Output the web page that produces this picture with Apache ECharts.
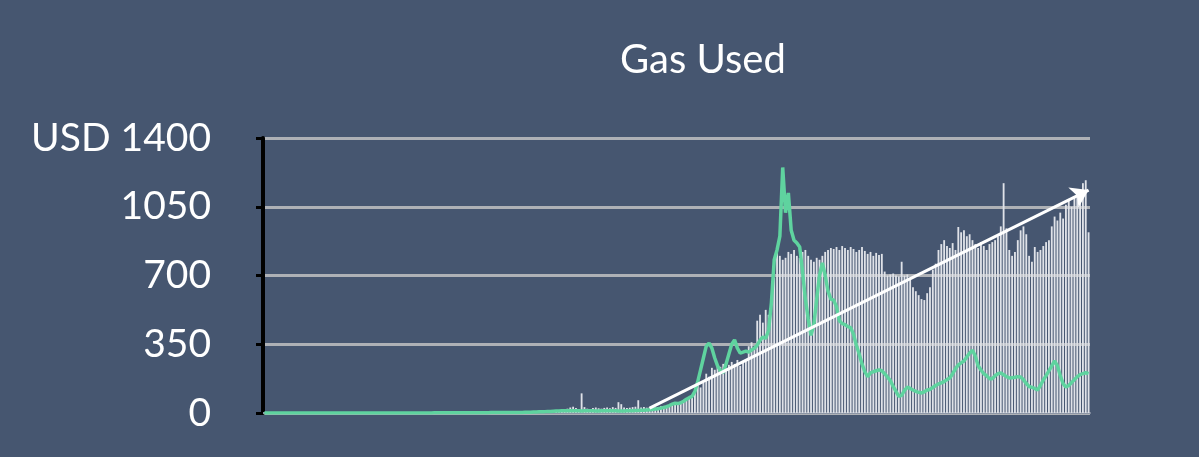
<!DOCTYPE html>
<html>
<head>
<meta charset="utf-8">
<script src="https://cdn.jsdelivr.net/npm/echarts@6/dist/echarts.min.js"></script>
<style>
html,body{margin:0;padding:0;background:#465670;}
#chart{width:1199px;height:457px;}
</style>
</head>
<body>
<div id="chart"></div>
<script>
// Weekly gas used (USD) – bars
var gasUsed = [
0,0,0,0,0,0,0,0,0,0,
0,0,0,0,0,0,0,0,0,0,
0,0,0,0,0,0,0,0,0,0,
0,0,0,0,0,0,0,0,0,0,
0,0,0,0,0,0,0,0,0,0,
0,0,0,0,0,0,0,0,0,0,
0,0,0,0,0,0,0,0,0,0,
0,0,0,0,0,0,0,0,0,0,
0,0,0,0,0,0,0,0,0,4,
6,8,5,4,6,7,5,6,8,7,
6,8,9,10,9,14,18,22,28,32,
25,20,100,30,22,20,25,28,24,22,
26,28,24,30,26,55,45,28,25,27,
30,32,65,28,30,27,30,32,28,30,
34,36,38,35,40,42,45,50,60,65,
75,90,120,150,130,155,200,185,230,220,
240,235,250,225,245,260,250,270,240,260,
265,340,360,330,470,500,460,525,500,560,
690,815,800,780,790,820,810,830,800,790,
820,830,800,780,770,790,780,800,820,830,
840,835,845,830,850,840,830,845,835,820,
830,845,825,810,820,800,815,805,810,720,
700,705,710,700,695,770,700,705,690,640,
620,600,580,575,610,640,730,760,830,860,
880,850,840,865,830,947,920,930,900,910,
880,860,840,870,850,830,860,870,880,900,
950,1170,940,830,800,820,880,930,950,910,
800,770,845,820,830,850,870,880,950,1000,
980,1020,990,1060,1090,1050,1100,1120,1080,1170,
1185,920
];
// ETH price (USD) – green line
var ethPrice = [
0,0,0,0,0,0,0,0,0,0,
0,0,0,0,0,0,0,0,0,0,
0,0,0,0,0,0,0,0,0,0,
0,0,0,0,0,0,0,0,0,0,
0,0,0,0,0,0,0,0,0,0,
0,0,0,0,0,0,0,0,0,0,
1,1,1,1,1,1,1,1,1,1,
1,1,1,1,1,1,1,1,1,1,
2,2,2,2,2,2,2,2,2,3,
3,3,4,4,4,5,5,6,7,7,
8,8,9,10,10,11,11,12,12,12,
11,11,10,11,12,12,11,10,10,11,
11,12,12,11,11,10,10,10,11,12,
12,13,13,14,14,15,16,18,20,22,
25,28,32,38,45,50,48,52,60,70,
78,85,110,160,220,280,340,356,330,280,
240,215,205,250,300,350,372,330,305,310,
315,310,320,330,345,370,387,380,420,560,
780,830,900,1250,1020,1120,930,880,866,845,
720,580,480,395,450,580,700,764,700,620,
580,575,540,470,455,450,440,435,400,345,
300,250,210,185,204,210,215,220,215,200,
183,165,135,110,85,90,115,132,125,117,
110,105,102,108,117,120,130,140,148,153,
160,170,178,200,225,245,255,265,285,305,
320,290,240,219,200,190,175,175,190,200,
204,195,185,178,180,182,185,183,170,150,
135,130,125,117,140,168,190,215,240,265,
240,190,150,132,140,155,170,185,195,200,
205,200
];
var yTicks = [0, 350, 700, 1050, 1400];
// trend arrow: [category index, value]
var trendStart = [136, 25];
var trendEnd = [291, 1135];

var categories = [];
for (var i = 0; i < gasUsed.length; i++) { categories.push('W' + i); }

var chart = echarts.init(document.getElementById('chart'));
chart.setOption({
  backgroundColor: '#465670',
  animation: false,
  title: {
    text: 'Gas Used',
    left: 615, top: 35,
    textStyle: { color: '#ffffff', fontSize: 40, fontWeight: 'normal', fontFamily: 'Lato' }
  },
  grid: { left: 263, right: 109, top: 138, bottom: 44, containLabel: false },
  xAxis: {
    type: 'category',
    data: categories,
    boundaryGap: true,
    axisLine: { show: true, lineStyle: { color: '#8d96a6', width: 2 } },
    axisTick: { show: false },
    axisLabel: { show: false },
    splitLine: { show: false }
  },
  yAxis: {
    type: 'value',
    min: yTicks[0], max: yTicks[yTicks.length - 1], interval: 350,
    axisLine: { show: true, lineStyle: { color: '#000000', width: 4 } },
    axisTick: { show: true, length: 7, lineStyle: { color: '#000000', width: 3 } },
    axisLabel: {
      color: '#ffffff', fontSize: 39, fontFamily: 'Lato', margin: 52,
      formatter: function (v) { return v === 1400 ? 'USD 1400' : String(v); }
    },
    splitLine: { show: true, lineStyle: { color: '#aeb1b6', width: 3 } }
  },
  series: [
    {
      type: 'bar',
      data: gasUsed,
      barCategoryGap: '35%',
      itemStyle: { color: '#dfe2e8' },
      z: 2
    },
    {
      type: 'line',
      data: ethPrice,
      showSymbol: false,
      symbol: 'none',
      lineStyle: { color: '#5fd39f', width: 3.5 },
      z: 3,
      markLine: {
        silent: true,
        symbol: ['none', 'arrow'],
        symbolSize: 17,
        label: { show: false },
        lineStyle: { color: '#ffffff', width: 3, type: 'solid' },
        data: [[
          { coord: [categories[trendStart[0]], trendStart[1]] },
          { coord: [categories[trendEnd[0]], trendEnd[1]] }
        ]],
        z: 5
      }
    }
  ]
});
</script>
</body>
</html>
